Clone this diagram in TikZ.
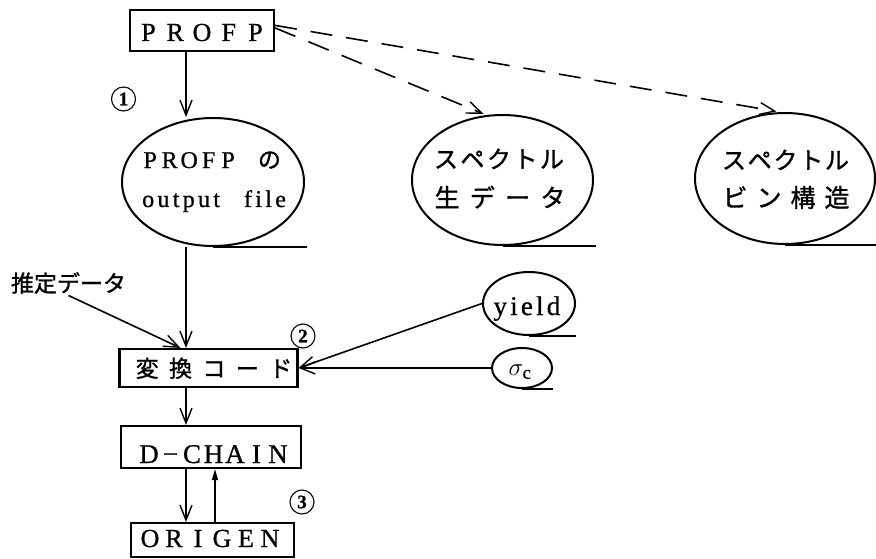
\documentclass[tikz,border=0pt]{standalone}
\usepackage{fontspec}
\setmainfont{Liberation Serif}[FakeBold=0.8]
\newfontfamily\latin{Liberation Serif}[FakeBold=0.8]
\newfontfamily\jp{Noto Sans CJK JP}[FakeBold=1.2]
\usetikzlibrary{arrows.meta,calc,shapes.geometric}

\makeatletter
% set each character in a cell of fixed pitch
\newlength\cellw
\newcommand\cells[2]{\setlength\cellw{#1}\@tfor\cellch:=#2\do{\makebox[\cellw][c]{\cellch}}}
% set characters with a fixed extra gap between them
\newlength\gapw
\newcommand\tracked[2]{\setlength\gapw{#1}\@tfor\cellch:=#2\do{\cellch\hspace{\gapw}}\hspace{-\gapw}}
\makeatother

\newcommand\fs[1]{\fontsize{#1}{#1}\selectfont}

\begin{document}
\begin{tikzpicture}[x=1pt,y=-1pt,
  box/.style={draw, rectangle, line width=2.1pt, inner xsep=0pt, inner ysep=0pt},
  tape/.style={draw, ellipse, line width=2pt, inner sep=0pt},
  tapeline/.style={line width=2.7pt},
  txt/.style={inner sep=0pt, anchor=base},
  num/.style={circle, draw, line width=1.1pt, minimum size=24pt, inner sep=0pt,
              font=\fs{19}\bfseries},
  arr/.style={line width=1.6pt, -{Straight Barb[length=15pt,width=12pt,line width=1.4pt]}},
  dash arr/.style={arr, dash pattern=on 22pt off 14pt},
  back arr/.style={line width=1.6pt, -{Triangle[length=11pt,width=6pt]}}]
\useasboundingbox (0,0) rectangle (876,559);

% main column axes
\coordinate (ax) at (186,0);
\coordinate (bx) at (215,0);

% program boxes
\node[box, minimum width=144pt, text height=31pt, text depth=10pt] (profp) at (202,30.5)
  {\fs{26}\cells{26.75pt}{PROFP}};
\node[box, minimum width=177pt, text height=28pt, text depth=10pt] (conv) at (208.5,368)
  {\hspace{11pt}\jp\fs{23}\cells{33.4pt}{変換コード}};
\node[box, minimum width=180pt, text height=37pt, text depth=5pt] (dchain) at (211,447)
  {\hspace{5pt}\fs{27}\cells{21.5pt}{D−CHAIN}};
\node[box, minimum width=163pt, text height=24pt, text depth=10pt] (origen) at (212.5,540)
  {\hspace{-5pt}\fs{26}\cells{24pt}{ORIGEN}};

% tape files
\node[tape, minimum width=182pt, minimum height=128pt] (e1) at (213,182) {};
\node[tape, minimum width=181pt, minimum height=130pt] (e2) at (502.5,180) {};
\node[tape, minimum width=180pt, minimum height=131pt] (e3) at (785,178.5) {};
\node[tape, minimum width=92pt, minimum height=63pt] (yield) at (529,303.5) {};
\node[tape, minimum width=60pt, minimum height=40pt] (sig) at (522,368) {};

\foreach \e in {e1,e2,e3} \draw[tapeline] (\e.south) -- ($(\e.south -| \e.east)+(2,0)$);
\foreach \e in {yield,sig} \draw[tapeline] (\e.south) -- (\e.south -| \e.east);

% labels of the tape files
\node[txt, anchor=base west] (e1a) at (140.25,168)
  {\fs{24}\cells{19.5pt}{PROFP}\hspace{20pt}{\jp\fs{23}の}};
\node[txt, anchor=base west] (e1b) at (142,207)
  {\fs{24}\tracked{3.3pt}{output}\hspace{24pt}\tracked{3.3pt}{file}};
\node[txt] (e2a) at (499,168) {\jp\fs{24}\cells{26.5pt}{スペクトル}};
\node[txt] (e2b) at (500,207) {\jp\fs{25}\cells{35.3pt}{生データ}};
\node[txt] (e3a) at (785.5,169) {\jp\fs{24}\cells{25.75pt}{スペクトル}};
\node[txt] (e3b) at (786,207) {\jp\fs{25}\cells{34pt}{ビン構造}};
\node[txt] (yt) at (528.5,315) {\fs{27}\tracked{3.2pt}{yield}};
\node[txt] (st) at (520,375) {\fs{27}$\sigma_{\mathrm{c}}$};

% estimated data input
\node[inner sep=1.5pt, font=\jp\fs{23}] (est) at (68.5,283) {推定データ};

% step numbers
\node[num] (n1) at (123.5,99) {1};
\node[num] (n2) at (303,336) {2};
\node[num] (n3) at (302,502) {3};

% flow
\draw[arr] (profp.south -| ax) -- (e1.north -| ax);
\draw[dash arr, shorten >=3pt] (profp.2) -- (e2.104);
\draw[dash arr, shorten >=4pt] (profp.4.4) -- (e3.94);
\draw[arr] (e1.south -| ax) -- (conv.north -| ax);
\draw[arr] (est.south) -- ($(conv.north)+(-28,0)$);
\draw[arr] (yield.west) -- (conv.east);
\draw[arr] (sig.west) -- (conv.east);
\draw[arr] (conv.south -| ax) -- (dchain.north -| ax);
\draw[arr] (dchain.south -| ax) -- (origen.north -| ax);
\draw[back arr] (origen.north -| bx) -- (dchain.south -| bx);
\end{tikzpicture}
\end{document}
